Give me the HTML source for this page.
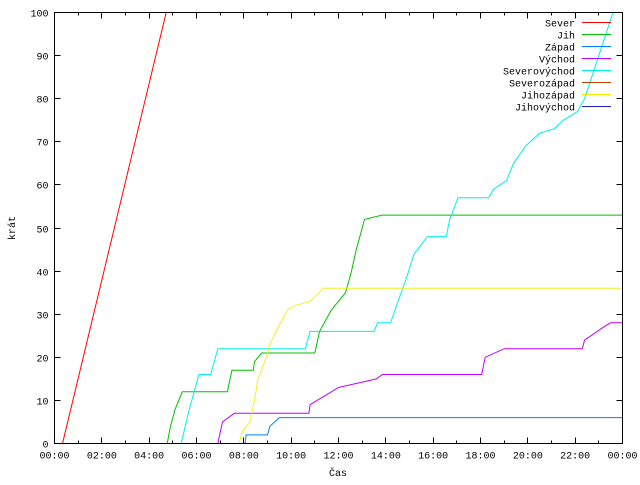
<!DOCTYPE html>
<html><head><meta charset="utf-8"><style>
body{margin:0;background:#fff}
svg text{font-family:"Liberation Mono",monospace;font-size:10px;fill:#000}
</style></head><body>
<svg width="640" height="480" id="c">
<rect x="0" y="0" width="640" height="480" fill="#fff"/>
<g id="ticks" shape-rendering="crispEdges"></g>
<g id="series"></g>
<g id="legend"></g>
<rect x="54.5" y="12.5" width="568" height="431" fill="none" stroke="#000" stroke-width="1" shape-rendering="crispEdges"/>
<text x="338" y="476" text-anchor="middle">Čas</text>
<text x="0" y="0" transform="translate(15,228) rotate(-90)" text-anchor="middle">krát</text>
</svg>
<script>
const names=["Sever","Jih","Západ","Východ","Severovýchod","Severozápad","Jihozápad","Jihovýchod"];
const colors=["#ff0000","#00c000","#0080ff","#c000ff","#00eeee","#c04000","#eeee00","#2020c0"];
const yTicks=[0,10,20,30,40,50,60,70,80,90,100];
const xTickLabels=["00:00","02:00","04:00","06:00","08:00","10:00","12:00","14:00","16:00","18:00","20:00","22:00","00:00"];
const severH=[0.34,4.72];
const severV=[0,100];
const jihH=[4.76,4.9,5.1,5.4,7.3,7.5,8.4,8.45,8.75,11,11.2,11.4,11.7,12.3,12.55,12.75,13.1,13.85,24];
const jihV=[0,4,8,12,12,17,17,19,21,21,26,28,31,35,40,45,52,53,53];
const zapadH=[8.05,8.1,9,9.1,9.5,24];
const zapadV=[0,2,2,4,6,6];
const vychodH=[6.9,7.1,7.6,10.75,10.8,11.4,12.0,13.6,13.85,18.05,18.2,19.0,22.3,22.4,23.2,23.5,24];
const vychodV=[0,5,7,7,9,11,13,15,16,16,20,22,22,24,27,28,28];
const svH=[5.35,5.7,6.1,6.6,6.9,10.6,10.8,13.5,13.65,14.2,14.45,14.85,15.2,15.75,16.55,16.7,17.05,18.35,18.55,19.1,19.4,19.9,20.5,21.1,21.5,22.1,22.4,23.0,23.6];
const svV=[0,8,16,16,22,22,26,26,28,28,32,38,44,48,48,52,57,57,59,61,65,69,72,73,75,77,80,90,100];
const jzH=[7.8,7.95,8.25,8.45,8.6,8.95,9.1,9.45,9.85,10.15,10.8,11.0,11.35,24];
const jzV=[0,3,5,10,15,20,23,27,31,32,33,34,36,36];
const series=[[severH,severV,0],[jihH,jihV,1],[zapadH,zapadV,2],[vychodH,vychodV,3],[svH,svV,4],[jzH,jzV,6]];
const L=54.5,R=622.5,T=12.5,B=443.5;
const sx=h=>L+h/24*(R-L);
const sy=v=>B-v/100*(B-T);
const NS="http://www.w3.org/2000/svg";
const tg=document.getElementById('ticks');
function mk(tag,attrs,parent){const e=document.createElementNS(NS,tag);for(const k in attrs)e.setAttribute(k,attrs[k]);parent.appendChild(e);return e;}
yTicks.forEach(v=>{
  const y=Math.round(sy(v)-0.5)+0.5;
  const l=mk('path',{d:`M${L},${y}h6M${R},${y}h-6`,stroke:'#000'},tg);
  
  
  const t=mk('text',{x:L-6,y:y+4,'text-anchor':'end'},tg);
  t.textContent=v;
  
  
});
for(let h=0;h<=24;h++){
  const x=Math.round(sx(h)-0.5)+0.5,len=h%2?3:6;
  const l=mk('path',{d:`M${x},${B}v-${len}M${x},${T}v${len}`,stroke:'#000'},tg);
  
  
}
xTickLabels.forEach((s,i)=>{
  const t=mk('text',{x:sx(i*2),y:B+15,'text-anchor':'middle'},tg);
  t.textContent=s;
  
  
});
const sg=document.getElementById('series');
series.forEach(([hs,vs,ci])=>{
  const pts=hs.map((h,i)=>sx(h).toFixed(1)+','+sy(vs[i]).toFixed(1)).join(' ');
  const p=mk('polyline',{points:pts,fill:'none',stroke:colors[ci],'stroke-width':1,opacity:ci===6?0.85:1},sg);
  
  
});
const lg=document.getElementById('legend');
names.forEach((n,i)=>{
  const y=22.5+i*12;
  const t=mk('text',{x:575,y:y+4,'text-anchor':'end'},lg);
  t.textContent=n;
  
  
  const l=mk('line',{x1:582,x2:611,y1:y,y2:y,stroke:colors[i],'stroke-width':1},lg);
  
  
});
</script>
</body></html>
